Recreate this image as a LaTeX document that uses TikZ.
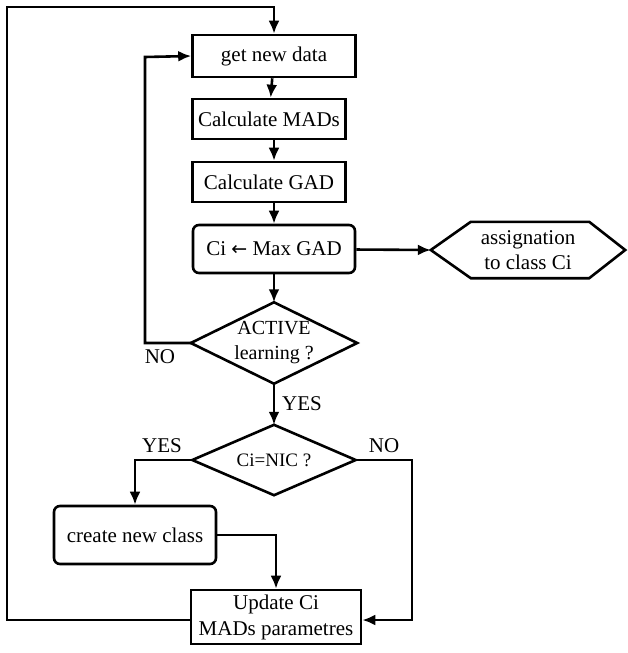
\documentclass[tikz,border=0pt]{standalone}
\usepackage{fontspec}
\setmainfont{Liberation Serif}
\newfontfamily\dvsans{DejaVu Sans}
\usetikzlibrary{arrows.meta}
\begin{document}
\begin{tikzpicture}[x=1pt,y=-1pt,
  every node/.style={font=\fontsize{21}{25}\selectfont},
  box/.style={draw,line width=2.6pt,inner sep=0pt,align=center},
  rbox/.style={box,rounded corners=6pt},
  shp/.style={inner sep=0pt,align=center},
  outl/.style={line width=2.6pt,line join=miter},
  conn/.style={line width=2.6pt,-{Latex[length=13pt,width=11pt]}},
  lbl/.style={font=\fontsize{21}{25}\selectfont,inner sep=0pt}]
\useasboundingbox (0,0) rectangle (628,653);
% nodes
\node[box,minimum width=163,minimum height=42] (get) at (274,56) {get new data};
\node[box,minimum width=153,minimum height=40] (mads) at (269,119) {Calculate MADs};
\node[box,minimum width=153,minimum height=40] (gad) at (269,182) {Calculate GAD};
\node[rbox,minimum width=162,minimum height=48] (max) at (274,249) {Ci {\dvsans\fontsize{19}{21}\selectfont ←} Max GAD};
\node[shp,minimum width=194,minimum height=56,font=\fontsize{21}{25}\selectfont] (hex) at (528,250) {assignation\\to class Ci};
\draw[outl] (hex.west) -- ([xshift=40pt]hex.north west) -- ([xshift=-36pt]hex.north east) -- (hex.east) -- ([xshift=-36pt]hex.south east) -- ([xshift=40pt]hex.south west) -- cycle;
\node[shp,minimum width=166,minimum height=81,font=\fontsize{20}{25}\selectfont] (act) at (274,343) {ACTIVE\\learning ?};
\draw[outl] (act.west) -- (act.north) -- (act.east) -- (act.south) -- cycle;
\node[shp,minimum width=163,minimum height=70,font=\fontsize{19}{24}\selectfont] (nic) at (274,460) {Ci=NIC ?};
\draw[outl] (nic.west) -- (nic.north) -- (nic.east) -- (nic.south) -- cycle;
\node[rbox,minimum width=162,minimum height=58] (new) at (135,535) {create new class};
\node[box,minimum width=170,minimum height=54,font=\fontsize{21}{26}\selectfont] (upd) at (276,617) {Update Ci\\MADs parametres};
% labels
\node[lbl] (lno1) at (160,357) {NO};
\node[lbl,anchor=west] (lyes1) at (282,404) {YES};
\node[lbl] (lyes2) at (162,446) {YES};
\node[lbl] (lno2) at (384,446) {NO};
% coordinates
\coordinate (tl) at (7,7);
\coordinate (tr) at (274,7);
\coordinate (ltop) at (145,57);
% connectors
\draw[conn] (get) -- (mads);
\draw[conn] (mads.south -| get) -- (gad.north -| get);
\draw[conn] (gad.south -| get) -- (max);
\draw[conn] (max) -- (hex.west);
\draw[conn] (max) -- (act.north);
\draw[conn] (act.south) -- (nic.north);
\draw[conn] (act.west) -| (ltop) -- (get.west);
\draw[conn] (nic.west) -| (new.north);
\draw[conn] (new.east) -| (upd.north);
\draw[conn] (nic.east) -| (412,620) -- (upd.east |- 0,620);
\draw[conn] (upd.west |- 0,620) -| (tl) -- (tr) -- (get.north);
\end{tikzpicture}
\end{document}
